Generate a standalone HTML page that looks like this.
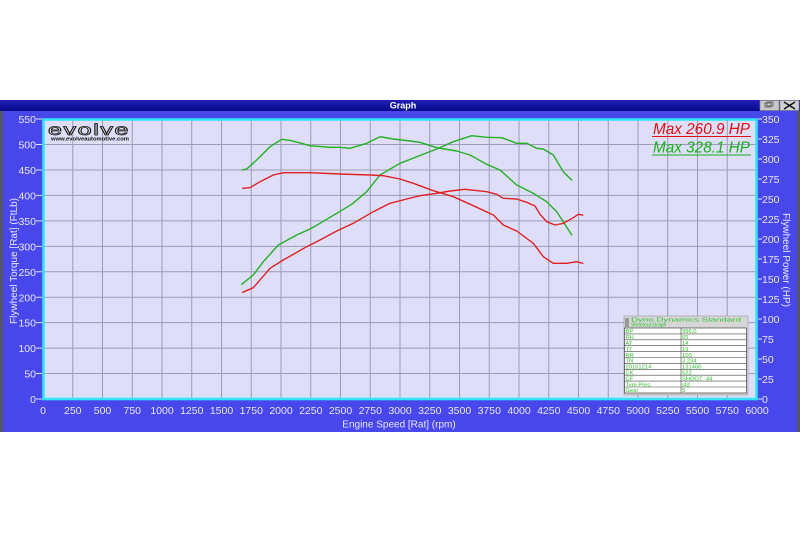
<!DOCTYPE html>
<html><head><meta charset="utf-8"><style>
html,body{margin:0;padding:0;background:#fff;}
svg{display:block;}
text{font-family:"Liberation Sans",sans-serif;}
</style></head><body>
<svg width="800" height="533" viewBox="0 0 800 533" xmlns="http://www.w3.org/2000/svg">
<defs>
<linearGradient id="tb" x1="0" y1="0" x2="0" y2="1"><stop offset="0" stop-color="#2020b8"/><stop offset="1" stop-color="#08088c"/></linearGradient>
</defs>
<rect x="0" y="0" width="800" height="533" fill="#ffffff"/>
<!-- title bar -->
<rect x="0" y="100" width="800" height="11" fill="url(#tb)"/>
<text x="403" y="108.5" font-size="9" font-weight="bold" fill="#ffffff" text-anchor="middle">Graph</text>
<rect x="760" y="100.5" width="19" height="10" fill="#c8c8c8" stroke="#888" stroke-width="0.6"/>
<rect x="765" y="103" width="6" height="4" fill="none" stroke="#555" stroke-width="0.8"/>
<rect x="767" y="102" width="6" height="4" fill="none" stroke="#555" stroke-width="0.8"/>
<rect x="780" y="100.5" width="19" height="10" fill="#d0d0d0" stroke="#888" stroke-width="0.6"/>
<path d="M784 102 L795 109 M795 102 L784 109" stroke="#111" stroke-width="1.4"/>
<!-- main blue panel -->
<rect x="0" y="111" width="800" height="321" fill="#4747ec"/>
<rect x="0" y="111" width="3" height="321" fill="#555566"/>
<rect x="797" y="111" width="3" height="321" fill="#555566"/>
<!-- plot area -->
<rect x="43" y="119" width="714" height="280" fill="#dedef9"/>
<g stroke="#9c9cb6" stroke-width="1">
<line x1="72.75" y1="119" x2="72.75" y2="399"/><line x1="102.5" y1="119" x2="102.5" y2="399"/><line x1="132.25" y1="119" x2="132.25" y2="399"/><line x1="162" y1="119" x2="162" y2="399"/><line x1="191.75" y1="119" x2="191.75" y2="399"/><line x1="221.5" y1="119" x2="221.5" y2="399"/><line x1="251.25" y1="119" x2="251.25" y2="399"/><line x1="281" y1="119" x2="281" y2="399"/><line x1="310.75" y1="119" x2="310.75" y2="399"/><line x1="340.5" y1="119" x2="340.5" y2="399"/><line x1="370.25" y1="119" x2="370.25" y2="399"/><line x1="400" y1="119" x2="400" y2="399"/><line x1="429.75" y1="119" x2="429.75" y2="399"/><line x1="459.5" y1="119" x2="459.5" y2="399"/><line x1="489.25" y1="119" x2="489.25" y2="399"/><line x1="519" y1="119" x2="519" y2="399"/><line x1="548.75" y1="119" x2="548.75" y2="399"/><line x1="578.5" y1="119" x2="578.5" y2="399"/><line x1="608.25" y1="119" x2="608.25" y2="399"/><line x1="638" y1="119" x2="638" y2="399"/><line x1="667.75" y1="119" x2="667.75" y2="399"/><line x1="697.5" y1="119" x2="697.5" y2="399"/><line x1="727.25" y1="119" x2="727.25" y2="399"/>
<line x1="43" y1="144.5" x2="757" y2="144.5"/><line x1="43" y1="170" x2="757" y2="170"/><line x1="43" y1="195.4" x2="757" y2="195.4"/><line x1="43" y1="220.9" x2="757" y2="220.9"/><line x1="43" y1="246.4" x2="757" y2="246.4"/><line x1="43" y1="271.8" x2="757" y2="271.8"/><line x1="43" y1="297.3" x2="757" y2="297.3"/><line x1="43" y1="322.6" x2="757" y2="322.6"/><line x1="43" y1="348.1" x2="757" y2="348.1"/><line x1="43" y1="373.5" x2="757" y2="373.5"/>
</g>
<rect x="43.5" y="119.5" width="713" height="279.5" fill="none" stroke="#33e4f4" stroke-width="2.6"/>
<!-- logo -->
<text x="48" y="135" font-size="16" fill="#ffffff" stroke="#111" stroke-width="0.8" textLength="82" lengthAdjust="spacingAndGlyphs" letter-spacing="1">evolve</text>
<text x="51" y="140.5" font-size="5" font-weight="bold" fill="#111" textLength="78" lengthAdjust="spacingAndGlyphs">www.evolveautomotive.com</text>
<!-- legend -->
<text x="750" y="134" font-size="16" font-style="italic" fill="#e01010" text-anchor="end" textLength="97" lengthAdjust="spacingAndGlyphs">Max 260.9 HP</text>
<line x1="652" y1="136.5" x2="751" y2="136.5" stroke="#e01010" stroke-width="1"/>
<text x="750" y="152.5" font-size="16" font-style="italic" fill="#18b018" text-anchor="end" textLength="97" lengthAdjust="spacingAndGlyphs">Max 328.1 HP</text>
<line x1="652" y1="155" x2="751" y2="155" stroke="#18b018" stroke-width="1"/>
<!-- curves -->
<g fill="none" stroke-width="1.4" stroke-linejoin="round" stroke-linecap="round">
<polyline stroke="#22b022" points="241.7,170 246.7,169 256.7,160 270,146.7 281.7,139.3 291.7,140.7 310,145.7 330,147.3 340,147.3 350,148.3 366.7,143.3 380,136.7 393.3,139 410,141 420,142.3 436.7,147.7 456.7,151 470,155 486.7,164.3 500,170 516.7,185 533.3,193.3 546.7,201.7 556.7,211.7 563.3,221.7 571.7,235"/>
<polyline stroke="#22b022" points="241.7,284.3 253.3,275 263.3,261.7 278.3,245 296.7,235 310,229 320,223.3 336.7,213.3 351.7,204.3 366.7,191.7 380,175 400,163.3 420,155.5 436.7,149 453.3,141.7 471.7,135.7 486.7,137.3 501.7,137.7 516.7,143.3 526.7,143.3 536.7,148.3 543.3,149 553.3,155 563.3,171.7 571.7,180"/>
<polyline stroke="#e02020" points="242.7,188.3 250,187.7 260,181.7 273.3,175 283.3,172.7 310,172.7 340,174 370,175 383.3,175.7 400,179 413.3,183.3 433.3,190.7 453.3,196.7 473.3,205.7 493.3,215 503.3,225 516.7,231 533.3,243.3 543.3,256.7 553.3,263.3 566.7,263.3 576.7,261.7 582.7,263.3"/>
<polyline stroke="#e02020" points="242.7,292.3 253.3,287.7 270,268.3 283.3,260 306.7,246.7 320,240 336.7,231 353.3,223.3 373.3,211.7 390,203.3 406.7,199 420,195.7 436.7,193.3 450,191 465,189.3 486.7,191.7 496.7,194.3 503.3,198.3 516.7,199 526.7,202.3 535,206 540,214.3 546.7,221.7 555,225 563.3,223.3 573.3,217.7 578.3,214.3 582.7,215"/>
</g>
<!-- info box -->
<rect x="624" y="316" width="124" height="79" fill="#d6d6d6" stroke="#999" stroke-width="0.6"/>
<rect x="625" y="318" width="4" height="9" fill="#999"/>
<text x="631" y="321.5" font-size="5.5" fill="#30c030" textLength="110" lengthAdjust="spacingAndGlyphs">Dyno Dynamics Standard</text>
<text x="631" y="326.5" font-size="5" fill="#30c030">Shootout Graph</text>
<rect x="624.5" y="328" width="122" height="65" fill="#ffffff" stroke="#444" stroke-width="0.7"/>
<g stroke="#444" stroke-width="0.6">
<line x1="624.5" y1="333.9" x2="746.5" y2="333.9"/><line x1="624.5" y1="339.8" x2="746.5" y2="339.8"/><line x1="624.5" y1="345.7" x2="746.5" y2="345.7"/><line x1="624.5" y1="351.6" x2="746.5" y2="351.6"/><line x1="624.5" y1="357.5" x2="746.5" y2="357.5"/><line x1="624.5" y1="363.4" x2="746.5" y2="363.4"/><line x1="624.5" y1="369.3" x2="746.5" y2="369.3"/><line x1="624.5" y1="375.2" x2="746.5" y2="375.2"/><line x1="624.5" y1="381.1" x2="746.5" y2="381.1"/><line x1="624.5" y1="387" x2="746.5" y2="387"/>
<line x1="681" y1="328" x2="681" y2="393"/>
</g>
<g font-size="5.8" fill="#30c030">
<text x="625.5" y="333.2">BP</text><text x="682" y="333.2">996.0</text>
<text x="625.5" y="339.1">RH</text><text x="682" y="339.1">65</text>
<text x="625.5" y="345">AT</text><text x="682" y="345">14</text>
<text x="625.5" y="350.9">TT</text><text x="682" y="350.9">19</text>
<text x="625.5" y="356.8">RR</text><text x="682" y="356.8">100</text>
<text x="625.5" y="362.7">TN</text><text x="682" y="362.7">3.234</text>
<text x="625.5" y="368.6">20161214</text><text x="682" y="368.6">131406</text>
<text x="625.5" y="374.5">CK</text><text x="682" y="374.5">522</text>
<text x="625.5" y="380.4">CF</text><text x="682" y="380.4">SHOOT_44</text>
<text x="625.5" y="386.3">Tyre Pres.</text><text x="682" y="386.3">std</text>
<text x="625.5" y="392.2">Gear</text><text x="682" y="392.2">5</text>
</g>
<!-- axis ticks -->
<g stroke="#e0e0ff" stroke-width="1">
<line x1="36" y1="119" x2="42" y2="119"/><line x1="36" y1="144.5" x2="42" y2="144.5"/><line x1="36" y1="170" x2="42" y2="170"/><line x1="36" y1="195.4" x2="42" y2="195.4"/><line x1="36" y1="220.9" x2="42" y2="220.9"/><line x1="36" y1="246.4" x2="42" y2="246.4"/><line x1="36" y1="271.8" x2="42" y2="271.8"/><line x1="36" y1="297.3" x2="42" y2="297.3"/><line x1="36" y1="322.6" x2="42" y2="322.6"/><line x1="36" y1="348.1" x2="42" y2="348.1"/><line x1="36" y1="373.5" x2="42" y2="373.5"/><line x1="36" y1="399" x2="42" y2="399"/>
<line x1="758" y1="119" x2="762" y2="119"/><line x1="758" y1="139" x2="762" y2="139"/><line x1="758" y1="159" x2="762" y2="159"/><line x1="758" y1="179" x2="762" y2="179"/><line x1="758" y1="199" x2="762" y2="199"/><line x1="758" y1="219" x2="762" y2="219"/><line x1="758" y1="239" x2="762" y2="239"/><line x1="758" y1="259" x2="762" y2="259"/><line x1="758" y1="279" x2="762" y2="279"/><line x1="758" y1="299" x2="762" y2="299"/><line x1="758" y1="319" x2="762" y2="319"/><line x1="758" y1="339" x2="762" y2="339"/><line x1="758" y1="359" x2="762" y2="359"/><line x1="758" y1="379" x2="762" y2="379"/><line x1="758" y1="399" x2="762" y2="399"/>
</g>
<g font-size="10.5" fill="#e8e8ff" text-anchor="end">
<text x="36" y="123">550</text><text x="36" y="148.5">500</text><text x="36" y="174">450</text><text x="36" y="199.4">400</text><text x="36" y="224.9">350</text><text x="36" y="250.4">300</text><text x="36" y="275.8">250</text><text x="36" y="301.3">200</text><text x="36" y="326.6">150</text><text x="36" y="352.1">100</text><text x="36" y="377.5">50</text><text x="36" y="403">0</text>
</g>
<g font-size="10.5" fill="#e8e8ff">
<text x="762" y="123">350</text><text x="762" y="143">325</text><text x="762" y="163">300</text><text x="762" y="183">275</text><text x="762" y="203">250</text><text x="762" y="223">225</text><text x="762" y="243">200</text><text x="762" y="263">175</text><text x="762" y="283">150</text><text x="762" y="303">125</text><text x="762" y="323">100</text><text x="762" y="343">75</text><text x="762" y="363">50</text><text x="762" y="383">25</text><text x="762" y="403">0</text>
</g>
<g font-size="10.5" fill="#e8e8ff" text-anchor="middle">
<text x="43" y="414">0</text><text x="72.75" y="414">250</text><text x="102.5" y="414">500</text><text x="132.25" y="414">750</text><text x="162" y="414">1000</text><text x="191.75" y="414">1250</text><text x="221.5" y="414">1500</text><text x="251.25" y="414">1750</text><text x="281" y="414">2000</text><text x="310.75" y="414">2250</text><text x="340.5" y="414">2500</text><text x="370.25" y="414">2750</text><text x="400" y="414">3000</text><text x="429.75" y="414">3250</text><text x="459.5" y="414">3500</text><text x="489.25" y="414">3750</text><text x="519" y="414">4000</text><text x="548.75" y="414">4250</text><text x="578.5" y="414">4500</text><text x="608.25" y="414">4750</text><text x="638" y="414">5000</text><text x="667.75" y="414">5250</text><text x="697.5" y="414">5500</text><text x="727.25" y="414">5750</text><text x="757" y="414">6000</text>
</g>
<text x="399" y="427.5" font-size="10" fill="#e8e8ff" text-anchor="middle">Engine Speed [Rat] (rpm)</text>
<text transform="translate(17,261) rotate(-90)" font-size="10" fill="#e8e8ff" text-anchor="middle">Flywheel Torque [Rat] (FtLb)</text>
<text transform="translate(783,260) rotate(90)" font-size="10" fill="#e8e8ff" text-anchor="middle">Flywheel Power (HP)</text>
</svg>
</body></html>
